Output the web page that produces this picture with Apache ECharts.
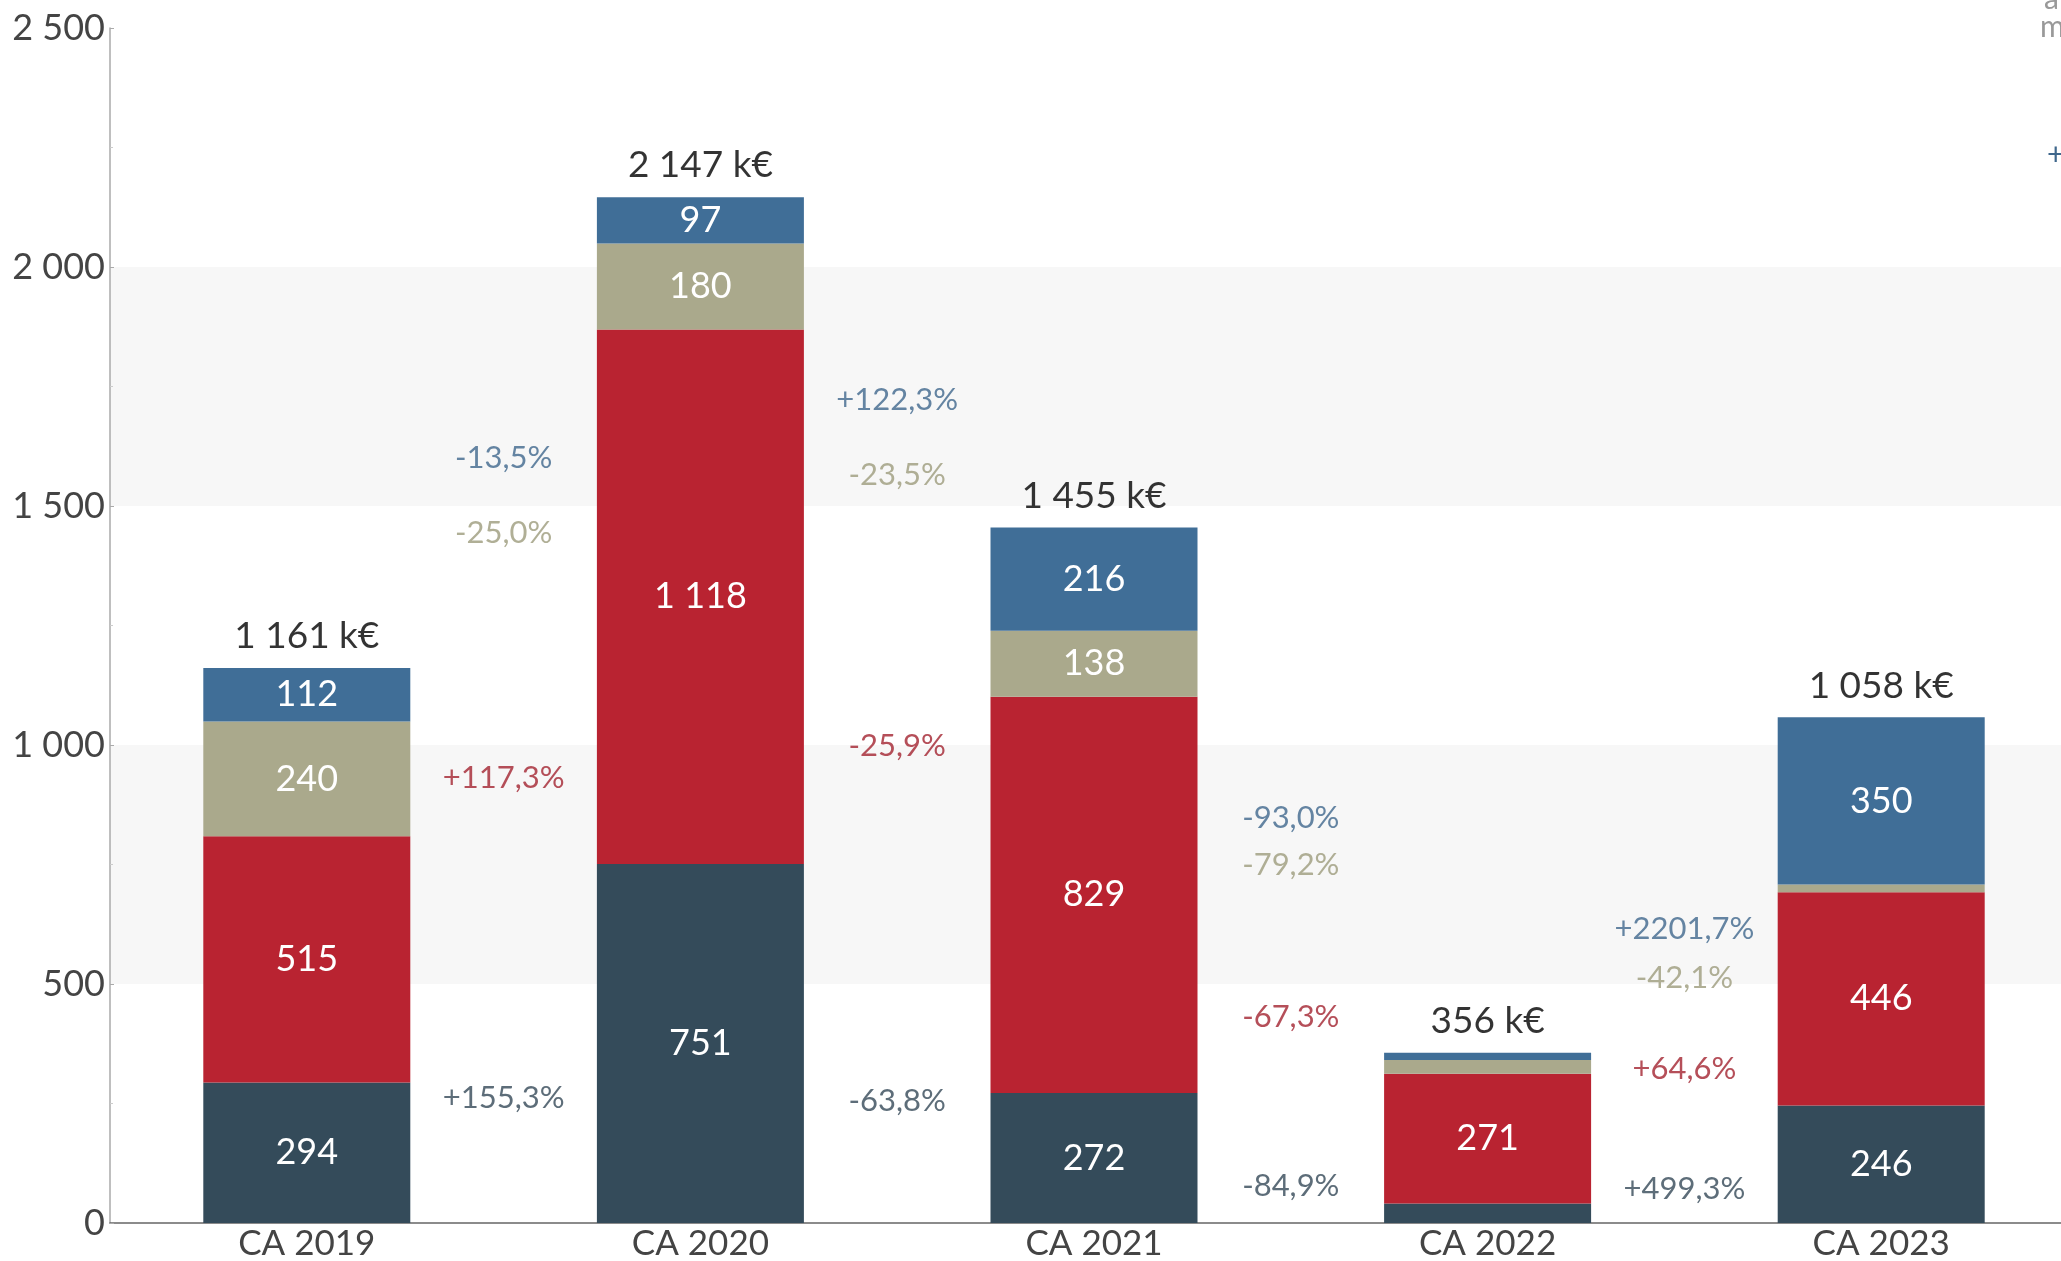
<!DOCTYPE html>
<html>
<head>
<meta charset="utf-8">
<script src="https://cdn.jsdelivr.net/npm/echarts@6/dist/echarts.min.js"></script>
<style>
  html, body { margin: 0; padding: 0; background: #ffffff; overflow: hidden; }
  #chart { width: 2100px; height: 1261px; }
</style>
</head>
<body>
<div id="chart"></div>
<script>
// Chiffre d'affaires par activité (k€), empilé par année
const categories = ['CA 2019', 'CA 2020', 'CA 2021', 'CA 2022', 'CA 2023'];
const seriesNames = ['Activité 1', 'Activité 2', 'Activité 3', 'Activité 4'];
const valuesDark  = [294, 751, 272, 41, 246];
const valuesRed   = [515, 1118, 829, 271, 446];
const valuesBeige = [240, 180, 138, 29, 16];
const valuesBlue  = [112, 97, 216, 15, 350];
const totals      = [1161, 2147, 1455, 356, 1058];

// Évolutions d'une année sur l'autre, par activité
const pctDark  = ['+155,3%', '-63,8%', '-84,9%', '+499,3%'];
const pctRed   = ['+117,3%', '-25,9%', '-67,3%', '+64,6%'];
const pctBeige = ['-25,0%', '-23,5%', '-79,2%', '-42,1%'];
const pctBlue  = ['-13,5%', '+122,3%', '-93,0%', '+2201,7%'];

const yTicks = [0, 500, 1000, 1500, 2000, 2500];

const FONT = 'Lato, "Open Sans", "Noto Sans", sans-serif';
const barColors  = ['#344b5a', '#b92331', '#aaa98c', '#406e97'];
const pctColors  = ['#354858', '#a3232f', '#9c9b7c', '#3f678c'];

const stacks = [valuesDark, valuesRed, valuesBeige, valuesBlue];
const pcts = [pctDark, pctRed, pctBeige, pctBlue];

function fmtThousands(v) {
  return String(v).replace(/\B(?=(\d{3})+(?!\d))/g, ' ');
}

// Centre vertical de chaque segment empilé
function segmentCenters(layer, idx) {
  let base = 0;
  for (let k = 0; k < layer; k++) base += stacks[k][idx];
  return base + stacks[layer][idx] / 2;
}

const barSeries = stacks.map((vals, layer) => ({
  name: seriesNames[layer],
  type: 'bar',
  stack: 'ca',
  xAxisIndex: 0,
  barWidth: 207,
  data: vals,
  itemStyle: { color: barColors[layer] },
  label: {
    show: true,
    position: 'inside',
    color: '#ffffff',
    fontFamily: FONT,
    fontSize: 36,
    formatter: p => (p.value >= 50 ? fmtThousands(p.value) : '')
  },
  silent: true
}));

// Étiquettes de variation, placées entre deux colonnes, à mi-hauteur des segments comparés
const pctSeries = pcts.map((arr, layer) => ({
  type: 'scatter',
  xAxisIndex: 1,
  symbolSize: 0,
  data: arr.map((txt, i) => [i + 1, (segmentCenters(layer, i) + segmentCenters(layer, i + 1)) / 2]),
  label: {
    show: true,
    position: 'inside',
    color: pctColors[layer],
    fontFamily: FONT,
    fontSize: 31,
    formatter: p => arr[p.dataIndex]
  },
  silent: true
}));

const totalSeries = {
  type: 'scatter',
  xAxisIndex: 1,
  symbolSize: 0,
  data: totals.map((t, i) => [i + 0.5, t]),
  label: {
    show: true,
    position: 'top',
    distance: 13,
    color: '#000000',
    fontFamily: FONT,
    fontSize: 37,
    formatter: p => fmtThousands(totals[p.dataIndex]) + ' k€'
  },
  silent: true
};

// Légende partiellement visible en bord droit
const edgeText = (txt, left, top, color) => ({
  text: txt, left: left, top: top, padding: 0,
  textStyle: { color: color, fontFamily: FONT, fontSize: 30, fontWeight: 'normal' }
});

const chart = echarts.init(document.getElementById('chart'), null, { renderer: 'canvas' });
chart.setOption({
  animation: false,
  backgroundColor: '#ffffff',
  title: [
    edgeText('a', 2044, -16, '#999999'),
    edgeText('m', 2040, 12, '#999999'),
    edgeText('+', 2047, 140, '#3f678c')
  ],
  grid: { left: 110, top: 28, bottom: 38, width: 1968, containLabel: false },
  xAxis: [
    {
      type: 'category',
      data: categories,
      axisLine: { show: true, lineStyle: { color: '#666666', width: 1.5 } },
      axisTick: { show: false },
      axisLabel: { color: '#444444', fontFamily: FONT, fontSize: 35, margin: 3 }
    },
    { type: 'value', min: 0, max: 5, show: false }
  ],
  yAxis: {
    type: 'value',
    min: 0,
    max: 2500,
    interval: 500,
    axisLine: { show: true, lineStyle: { color: '#aaaaaa', width: 1.5 } },
    axisTick: { show: true, inside: true, length: 4, lineStyle: { color: '#aaaaaa' } },
    minorTick: { show: true, splitNumber: 2, length: 3, lineStyle: { color: '#cccccc' } },
    splitLine: { show: false },
    splitArea: { show: true, areaStyle: { color: ['#ffffff', '#f7f7f7'] } },
    axisLabel: {
      color: '#444444', fontFamily: FONT, fontSize: 36, margin: 5,
      formatter: v => (yTicks.includes(v) ? fmtThousands(v) : '')
    }
  },
  series: [...barSeries, ...pctSeries, totalSeries]
});
</script>
</body>
</html>
